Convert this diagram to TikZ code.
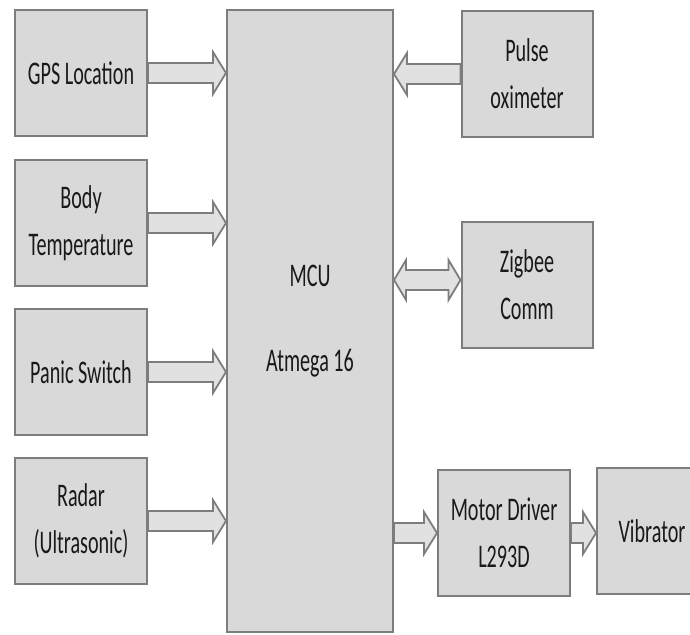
\documentclass[tikz,border=0pt]{standalone}
\usepackage{fontspec}
\setmainfont{Carlito}[FakeStretch=0.61]
\usepackage{tikz}
\usetikzlibrary{calc,positioning}
\usepackage{xcolor}
\definecolor{boxgray}{RGB}{217,217,217}
\definecolor{edgegray}{RGB}{125,125,125}
\definecolor{textgray}{RGB}{25,25,25}

\begin{document}
\begin{tikzpicture}[x=1pt, y=-1pt,
    block/.style={draw=edgegray, line width=2pt, fill=boxgray, text=textgray,
        minimum width=132pt, minimum height=126pt, align=center, inner sep=0pt,
        font=\fontsize{33}{47}\selectfont},
    blockarr/.style={draw=edgegray, line width=1.8pt, fill=boxgray!80!white,
        to path={let \p1=(\tikztostart), \p2=(\tikztotarget), \n1={(\x2>\x1)*2-1} in
        (\x1,{\y1+10pt}) -- ({\x2-\n1*13pt},{\y1+10pt}) -- ({\x2-\n1*13pt},{\y1+21pt})
        -- (\x2,\y1) -- ({\x2-\n1*13pt},{\y1-21pt}) -- ({\x2-\n1*13pt},{\y1-10pt})
        -- (\x1,{\y1-10pt}) -- cycle}},
    dblarr/.style={draw=edgegray, line width=1.8pt, fill=boxgray!80!white,
        to path={let \p1=(\tikztostart), \p2=(\tikztotarget), \n1={(\x2>\x1)*2-1} in
        ({\x1+\n1*12pt},{\y1+10pt}) -- ({\x2-\n1*12pt},{\y1+10pt}) -- ({\x2-\n1*12pt},{\y1+20pt})
        -- (\x2,\y1) -- ({\x2-\n1*12pt},{\y1-20pt}) -- ({\x2-\n1*12pt},{\y1-10pt})
        -- ({\x1+\n1*12pt},{\y1-10pt}) -- ({\x1+\n1*12pt},{\y1-20pt}) -- (\x1,\y1)
        -- ({\x1+\n1*12pt},{\y1+20pt}) -- cycle}}]

    \useasboundingbox (0,0) rectangle (690,634);
    \clip (0,0) rectangle (690,634);

    % Sensors
    \node[block] (gps) at (81,73) {GPS Location};
    \node[block] (temp) at (81,223) {Body\\Temperature};
    \node[block] (panic) at (81,372) {Panic Switch};
    \node[block] (radar) at (81,521) {Radar\\(Ultrasonic)};

    % Controller
    \node[block, minimum width=166pt, minimum height=622pt] (mcu) at (310,321)
        {MCU\\[38pt]Atmega 16};

    % Right side
    \node[block, minimum width=131pt] (pulse) at (527,74) {Pulse\\oximeter};
    \node[block, minimum width=131pt] (zig) at (527,285) {Zigbee\\Comm};
    \node[block] (motor) at (504,533) {Motor Driver\\L293D};
    \node[block, minimum width=110pt] (vib) at (652,531) {Vibrator};

    % Arrows
    \draw[blockarr] (gps.east) to (gps.east -| mcu.west);
    \draw[blockarr] (temp.east) to (temp.east -| mcu.west);
    \draw[blockarr] (panic.east) to (panic.east -| mcu.west);
    \draw[blockarr] (radar.east) to (radar.east -| mcu.west);
    \draw[blockarr] (pulse.west) to (pulse.west -| mcu.east);
    \draw[dblarr] ([yshift=5pt]zig.west -| mcu.east) to ([yshift=5pt]zig.west);
    \draw[blockarr] (mcu.east |- motor.west) to (motor.west);
    \draw[blockarr] (motor.east) to (vib.west);
\end{tikzpicture}
\end{document}
